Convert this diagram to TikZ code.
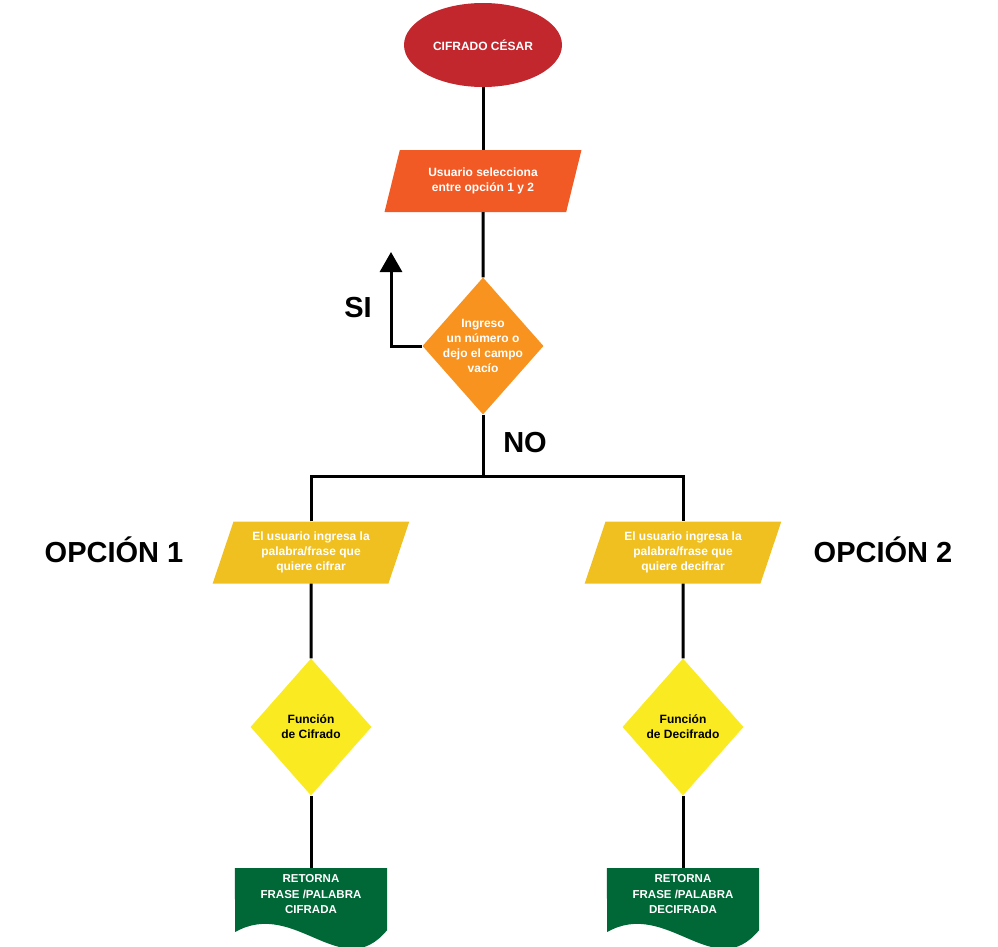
\documentclass[tikz,border=0pt]{standalone}
\usepackage{fontspec}
\setmainfont{Liberation Sans}
\usepackage{tikz}
\usetikzlibrary{shapes.geometric}
\usetikzlibrary{arrows.meta}
\usetikzlibrary{backgrounds}

\definecolor{titlered}{HTML}{C1272D}
\definecolor{entryorange}{HTML}{F15A24}
\definecolor{checkorange}{HTML}{F7931E}
\definecolor{inyellow}{HTML}{F0C020}
\definecolor{funyellow}{HTML}{FAEA22}
\definecolor{docgreen}{HTML}{006837}

\begin{document}
\begin{tikzpicture}[x=1pt,y=-1pt,
  line/.style={line width=3pt},
  box/.style={font=\bfseries\fontsize{12}{15}\selectfont, align=center, inner sep=0pt},
  entry/.style={box, trapezium, trapezium left angle=69, trapezium right angle=111,
    trapezium stretches=true, minimum width=197pt, minimum height=62pt, text=white},
  check/.style={box, diamond, minimum width=121pt, minimum height=137pt},
  result/.style={box, minimum width=152pt, minimum height=52pt, text=white,
    font=\bfseries\fontsize{11.5}{15.5}\selectfont},
  big/.style={font=\bfseries\fontsize{29}{31}\selectfont}]

\useasboundingbox (0,0) rectangle (998,947);

\node[box, ellipse, fill=titlered, text=white, minimum width=158pt, minimum height=84pt] (start) at (483,45) {CIFRADO CÉSAR};
\node[entry, fill=entryorange] (choose) at (483,181) {Usuario selecciona\\entre opción 1 y 2};
\node[check, fill=checkorange, text=white, inner sep=-8pt] (valid) at (483,346) {Ingreso\\un número o\\dejo el campo\\vacío};
\coordinate (split) at (483,476);
\coordinate (back) at (391,252);

\node[entry, fill=inyellow] (in1) at (311,552.5) {El usuario ingresa la\\palabra/frase que\\quiere cifrar};
\node[entry, fill=inyellow] (in2) at (683,552.5) {El usuario ingresa la\\palabra/frase que\\quiere decifrar};
\node[check, fill=funyellow] (fun1) at (311,727) {Función\\de Cifrado};
\node[check, fill=funyellow] (fun2) at (683,727) {Función\\de Decifrado};
\node[result, anchor=north] (out1) at (311,868) {RETORNA\\FRASE /PALABRA\\CIFRADA};
\node[result, anchor=north] (out2) at (683,868) {RETORNA\\FRASE /PALABRA\\DECIFRADA};

% document shapes behind the text
\begin{scope}[on background layer]
\foreach \r in {out1,out2}
  \fill[docgreen] (\r.north west) -- (\r.north east) -- ++(0,62)
    .. controls +(-45,55) and +(60,-34) .. ++(-152,2) -- cycle;
\end{scope}

\draw[line] (start) -- (choose);
\draw[line] (choose) -- (valid);
\draw[line] (valid) -- (split);
\draw[line] (in1) |- (split) -| (in2);
\draw[line] (in1) -- (fun1);
\draw[line] (in2) -- (fun2);
\draw[line] (fun1) -- (out1);
\draw[line] (fun2) -- (out2);
\draw[line, -{Triangle[width=22pt,length=20pt]}] (valid.west) -| (back);

\path
(358,308) node[big] (si) {SI}
(525,443) node[big] (no) {NO}
(114,550) node[big] (op1) {OPCIÓN 1}
(883,550) node[big] (op2) {OPCIÓN 2};

\end{tikzpicture}
\end{document}
